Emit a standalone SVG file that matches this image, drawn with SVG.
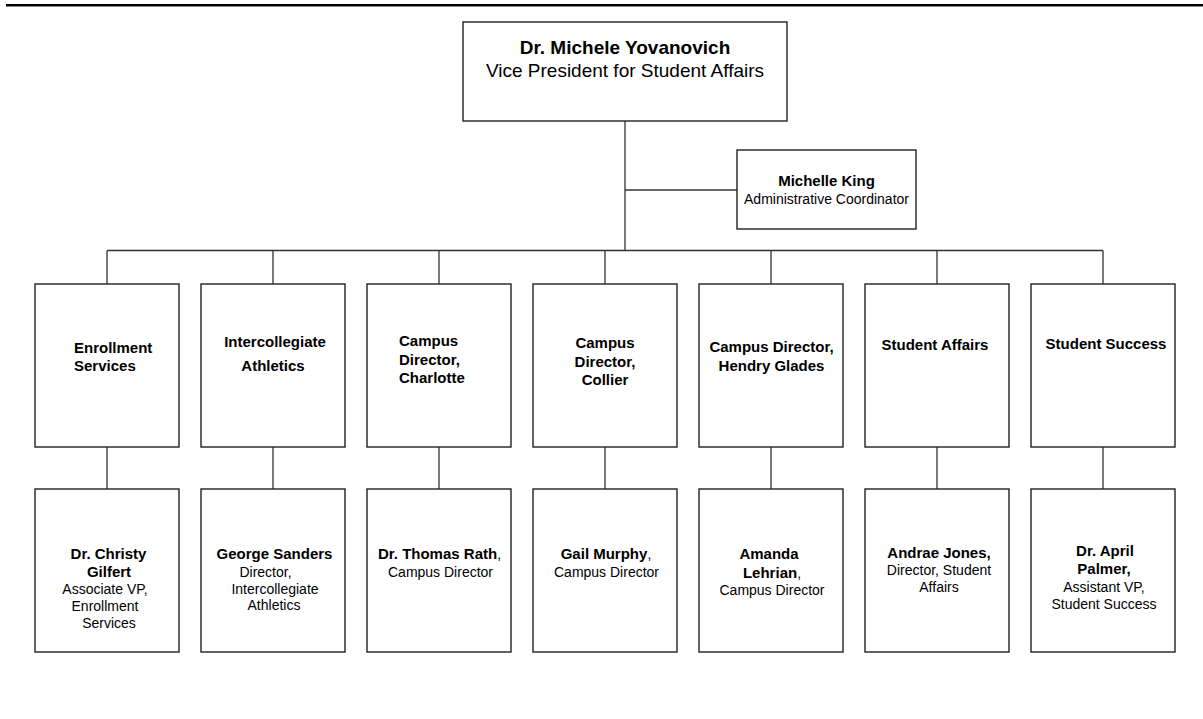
<svg xmlns="http://www.w3.org/2000/svg" width="1203" height="719" viewBox="0 0 1203 719">
  <style>
    .box { fill: #ffffff; stroke: #222222; stroke-width: 1.4; }
    .wire { fill: none; stroke: #333333; stroke-width: 1.3; }
    text { font-family: "Liberation Sans", Arial, sans-serif; fill: #000000; }
    .b { font-weight: bold; font-size: 15px; }
    .r { font-size: 14px; }
    .c { text-anchor: middle; }
    .tb { font-weight: bold; font-size: 19px; }
    .tr { font-size: 19px; }
  </style>

  <!-- page rule -->
  <rect x="6" y="4" width="1197" height="2" fill="#000000"/>
  <rect x="6" y="6" width="1197" height="1" fill="#8a8a8a"/>

  <!-- connectors -->
  <g id="connectors">
    <path class="wire" d="M625 121 V250.5"/>
    <path class="wire" d="M625 190 H737"/>
    <path class="wire" d="M107 250.5 H1103"/>
    <path class="wire" d="M107 250.5 V284 M273 250.5 V284 M439 250.5 V284 M605 250.5 V284 M771 250.5 V284 M937 250.5 V284 M1103 250.5 V284"/>
    <path class="wire" d="M107 447 V489 M273 447 V489 M439 447 V489 M605 447 V489 M771 447 V489 M937 447 V489 M1103 447 V489"/>
  </g>

  <!-- vice president -->
  <g id="vp">
    <rect class="box" x="463" y="22" width="324" height="99"/>
    <text class="tb c" x="625" y="54">Dr. Michele Yovanovich</text>
    <text class="tr c" x="625" y="77">Vice President for Student Affairs</text>
  </g>

  <!-- administrative coordinator -->
  <g id="admin">
    <rect class="box" x="737" y="150" width="179" height="79"/>
    <text class="b c" x="826.5" y="185.5">Michelle King</text>
    <text class="r c" x="826.5" y="204">Administrative Coordinator</text>
  </g>

  <!-- units -->
  <g id="unit-enrollment">
    <rect class="box" x="35" y="284" width="144" height="163"/>
    <text class="b" x="74" y="352.5">Enrollment</text>
    <text class="b" x="74" y="370.5">Services</text>
  </g>
  <g id="unit-athletics">
    <rect class="box" x="201" y="284" width="144" height="163"/>
    <text class="b c" x="275" y="347">Intercollegiate</text>
    <text class="b c" x="273" y="370.5">Athletics</text>
  </g>
  <g id="unit-charlotte">
    <rect class="box" x="367" y="284" width="144" height="163"/>
    <text class="b" x="399" y="346">Campus</text>
    <text class="b" x="399" y="364.5">Director,</text>
    <text class="b" x="399" y="382.5">Charlotte</text>
  </g>
  <g id="unit-collier">
    <rect class="box" x="533" y="284" width="144" height="163"/>
    <text class="b c" x="605" y="347.5">Campus</text>
    <text class="b c" x="605" y="366.5">Director,</text>
    <text class="b c" x="605" y="385">Collier</text>
  </g>
  <g id="unit-hendry">
    <rect class="box" x="699" y="284" width="144" height="163"/>
    <text class="b c" x="771.5" y="352">Campus Director,</text>
    <text class="b c" x="771.5" y="371">Hendry Glades</text>
  </g>
  <g id="unit-student-affairs">
    <rect class="box" x="865" y="284" width="144" height="163"/>
    <text class="b c" x="935" y="350">Student Affairs</text>
  </g>
  <g id="unit-student-success">
    <rect class="box" x="1031" y="284" width="144" height="163"/>
    <text class="b c" x="1106" y="348.5">Student Success</text>
  </g>

  <!-- unit heads -->
  <g id="head-gilfert">
    <rect class="box" x="35" y="489" width="144" height="163"/>
    <text class="b c" x="108.5" y="559">Dr. Christy</text>
    <text class="b c" x="109" y="577">Gilfert</text>
    <text class="r c" x="105" y="594">Associate VP,</text>
    <text class="r c" x="105" y="611">Enrollment</text>
    <text class="r c" x="109" y="628">Services</text>
  </g>
  <g id="head-sanders">
    <rect class="box" x="201" y="489" width="144" height="163"/>
    <text class="b c" x="274.5" y="559">George Sanders</text>
    <text class="r c" x="265.5" y="577">Director,</text>
    <text class="r c" x="275" y="593.5">Intercollegiate</text>
    <text class="r c" x="274" y="610">Athletics</text>
  </g>
  <g id="head-rath">
    <rect class="box" x="367" y="489" width="144" height="163"/>
    <text class="c" x="439.5" y="559"><tspan class="b">Dr. Thomas Rath</tspan><tspan class="r">,</tspan></text>
    <text class="r c" x="440.5" y="576.5">Campus Director</text>
  </g>
  <g id="head-murphy">
    <rect class="box" x="533" y="489" width="144" height="163"/>
    <text class="c" x="606" y="559"><tspan class="b">Gail Murphy</tspan><tspan class="r">,</tspan></text>
    <text class="r c" x="606.5" y="576.5">Campus Director</text>
  </g>
  <g id="head-lehrian">
    <rect class="box" x="699" y="489" width="144" height="163"/>
    <text class="b c" x="769" y="558.5">Amanda</text>
    <text class="c" x="772" y="577.5"><tspan class="b">Lehrian</tspan><tspan class="r">,</tspan></text>
    <text class="r c" x="772" y="595">Campus Director</text>
  </g>
  <g id="head-jones">
    <rect class="box" x="865" y="489" width="144" height="163"/>
    <text class="b c" x="939" y="557.5">Andrae Jones,</text>
    <text class="r c" x="939" y="575">Director, Student</text>
    <text class="r c" x="939" y="591.5">Affairs</text>
  </g>
  <g id="head-palmer">
    <rect class="box" x="1031" y="489" width="144" height="163"/>
    <text class="b c" x="1105" y="555.5">Dr. April</text>
    <text class="b c" x="1104" y="573.5">Palmer,</text>
    <text class="r c" x="1104" y="591.5">Assistant VP,</text>
    <text class="r c" x="1104" y="608.5">Student Success</text>
  </g>
</svg>
